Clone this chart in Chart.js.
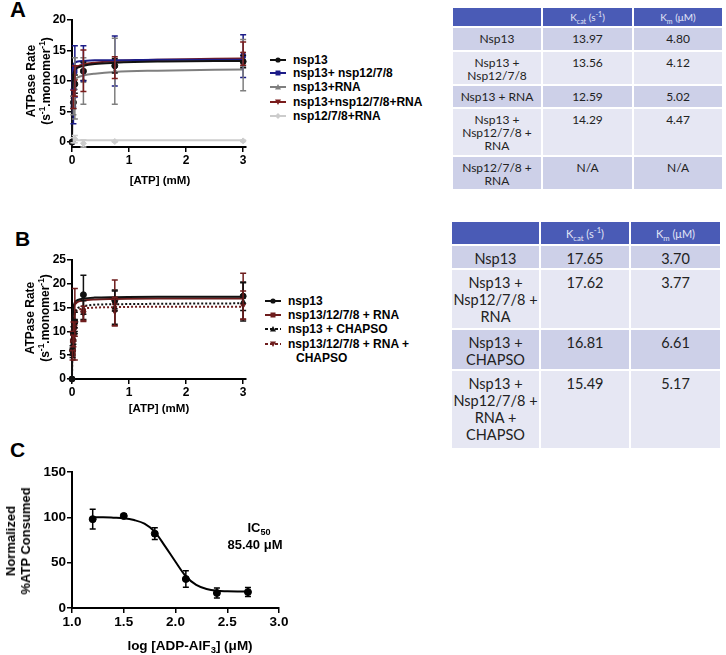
<!DOCTYPE html>
<html>
<head>
<meta charset="utf-8">
<script src="https://cdn.jsdelivr.net/npm/chart.js@4.4.1/dist/chart.umd.min.js"></script>
<style>
  body { margin: 0; background: #fff; width: 726px; height: 655px; position: relative; overflow: hidden;
         font-family: "Liberation Sans", Arial, sans-serif; color: #000; }
  canvas { position: absolute; }
  .panel { position: absolute; font-weight: bold; font-size: 21px; line-height: 24px; }
  .ytitle { position: absolute; transform: translate(-50%, -50%) rotate(-90deg); white-space: nowrap;
            text-align: center; font-weight: bold; }
  .xtitle { position: absolute; transform: translate(-50%, -50%); white-space: nowrap; font-weight: bold; }
  .leg { position: absolute; font-weight: bold; font-size: 12px; white-space: nowrap; line-height: 14px; }
  .leg svg { vertical-align: middle; margin-right: 7px; margin-top: -2px; }
  sup, sub { font-size: 70%; line-height: 0; }
  table { position: absolute; border-collapse: collapse; table-layout: fixed; color: #222;
          font-family: Lato, "Open Sans", sans-serif; }
  td, th { border: 2px solid #fff; text-align: center; vertical-align: top; padding: 4px 0 0 0; font-weight: normal; }
  th { background: #4a5bb6; color: #e2e5f6; vertical-align: middle; padding: 0; }
  tr.dk td { background: #cdd0e8; }
  tr.lt td { background: #e6e7f3; }
  #tabA { font-size: 12px; line-height: 13px; }
  #tabA th { font-size: 10px; }
  #tabB { font-size: 14.5px; line-height: 17px; }
  #tabB th { font-size: 11px; }
</style>
</head>
<body>

<div class="panel" style="left:10px; top:-2px; font-size:22px;">A</div>
<div class="panel" style="left:15px; top:227px;">B</div>
<div class="panel" style="left:10px; top:438px;">C</div>

<canvas id="chartA" width="260" height="190" style="left:0; top:0;"></canvas>
<canvas id="chartB" width="260" height="220" style="left:0; top:200px;"></canvas>
<canvas id="chartC" width="300" height="215" style="left:0; top:440px;"></canvas>

<div class="ytitle" style="left:39px; top:81px; font-size:12px; line-height:15px;">ATPase Rate<br>(s<sup>-1</sup>.monomer<sup>-1</sup>)</div>
<div class="xtitle" style="left:160px; top:180px; font-size:11.5px;">[ATP] (mM)</div>

<div class="ytitle" style="left:38px; top:318px; font-size:12px; line-height:15px;">ATPase Rate<br>(s<sup>-1</sup>.monomer<sup>-1</sup>)</div>
<div class="xtitle" style="left:159px; top:408px; font-size:11.5px;">[ATP] (mM)</div>

<div class="ytitle" style="left:18px; top:541px; font-size:13px; line-height:15px;">Normalized<br>%ATP Consumed</div>
<div class="xtitle" style="left:190px; top:645px; font-size:13.5px;">log [ADP-AlF<sub>3</sub>] (μM)</div>
<div class="xtitle" style="left:259px; top:527px; font-size:13px;">IC<sub>50</sub></div>
<div class="xtitle" style="left:255px; top:544px; font-size:13px;">85.40 μM</div>

<div id="legA"></div>
<div id="legB"></div>

<table id="tabA" style="left:451px; top:6px; width:271px;">
  <colgroup><col style="width:90px"><col style="width:91px"><col style="width:90px"></colgroup>
  <tr style="height:20px"><th></th><th>K<sub>cat</sub> (s<sup>-1</sup>)</th><th>K<sub>m</sub> (μM)</th></tr>
  <tr class="dk" style="height:24px"><td>Nsp13</td><td>13.97</td><td>4.80</td></tr>
  <tr class="lt" style="height:34px"><td>Nsp13 +<br>Nsp12/7/8</td><td>13.56</td><td>4.12</td></tr>
  <tr class="dk" style="height:23px"><td>Nsp13 + RNA</td><td>12.59</td><td>5.02</td></tr>
  <tr class="lt" style="height:48px"><td>Nsp13 +<br>Nsp12/7/8 +<br>RNA</td><td>14.29</td><td>4.47</td></tr>
  <tr class="dk" style="height:34px"><td>Nsp12/7/8 +<br>RNA</td><td>N/A</td><td>N/A</td></tr>
</table>

<table id="tabB" style="left:450px; top:220px; width:270px;">
  <colgroup><col style="width:89px"><col style="width:90px"><col style="width:91px"></colgroup>
  <tr style="height:24px"><th></th><th>K<sub>cat</sub> (s<sup>-1</sup>)</th><th>K<sub>m</sub> (μM)</th></tr>
  <tr class="dk" style="height:24px"><td>Nsp13</td><td>17.65</td><td>3.70</td></tr>
  <tr class="lt" style="height:60px"><td>Nsp13 +<br>Nsp12/7/8 +<br>RNA</td><td>17.62</td><td>3.77</td></tr>
  <tr class="dk" style="height:41px"><td>Nsp13 +<br>CHAPSO</td><td>16.81</td><td>6.61</td></tr>
  <tr class="lt" style="height:79px"><td>Nsp13 +<br>Nsp12/7/8 +<br>RNA +<br>CHAPSO</td><td>15.49</td><td>5.17</td></tr>
</table>

<script>
// ---------- Panel A data ----------
const labelsA = ["nsp13", "nsp13+ nsp12/7/8", "nsp13+RNA", "nsp13+nsp12/7/8+RNA", "nsp12/7/8+RNA"];
const colorsA = ["#111111", "#1c1c88", "#7f7f7f", "#7a1c1c", "#cccccc"];
const shapesA = ["circle", "rect", "triangle", "triangleDown", "rectRot"];

const atpA = [0, 0.025, 0.05, 0.2, 0.75, 3];
const rateA = [
  [0, 6.5, 9.5, 11.6, 12.5, 13.2],
  [0, 5.8, 11.6, 12.9, 13.3, 14.1],
  [0, 6.0, 8.8, 10.0, 11.6, 12.6],
  [0, 7.0, 10.0, 11.7, 12.2, 14.5],
  [0, 0.3, 0.5, -0.2, 0.1, 0.2]
];
const errA = [
  [0, 1.0, 1.5, 1.5, 1.2, 1.0],
  [0, 2.8, 4.2, 2.9, 4.1, 3.5],
  [0, 1.5, 5.0, 3.8, 5.4, 4.2],
  [0, 1.5, 2.5, 3.4, 1.8, 1.9],
  [0, 0.4, 0.6, 0.6, 0.1, 0.1]
];

const fitXA = [0, 0.002, 0.005, 0.01, 0.02, 0.04, 0.07, 0.1, 0.2, 0.4, 0.75, 1.5, 3];
const fitA = [
  [0, 4.0, 7.0, 9.2, 10.9, 11.6, 12.0, 12.2, 12.5, 12.8, 13.0, 13.2, 13.3],
  [0, 5.5, 9.2, 11.3, 12.4, 12.9, 13.1, 13.2, 13.3, 13.4, 13.4, 13.5, 13.5],
  [0, 3.5, 6.2, 8.0, 9.3, 10.0, 10.4, 10.6, 10.9, 11.2, 11.5, 11.7, 11.9],
  [0, 4.5, 7.8, 9.9, 11.2, 11.9, 12.2, 12.4, 12.7, 13.0, 13.3, 13.5, 13.7],
  [0.3, 0.3, 0.3, 0.3, 0.3, 0.3, 0.3, 0.3, 0.3, 0.3, 0.3, 0.3, 0.3]
];
const xTicksA = [0, 1, 2, 3];
const yTicksA = [0, 5, 10, 15, 20];

// ---------- Panel B data ----------
const labelsB = ["nsp13", "nsp13/12/7/8 + RNA", "nsp13 + CHAPSO", "nsp13/12/7/8 + RNA +<br><span style='padding-left:31px'>CHAPSO</span>"];
const colorsB = ["#111111", "#6e1d1d", "#111111", "#6e1d1d"];
const shapesB = ["circle", "rect", "triangle", "triangleDown"];
const dashedB = [false, false, true, true];

const atpB = [0, 0.01, 0.025, 0.05, 0.2, 0.75, 3];
const rateB = [
  [0, 6.0, 9.5, 12.0, 17.7, 16.5, 17.4],
  [0, 8.0, 10.0, 11.5, 14.3, 16.0, 17.4],
  [0, 5.5, 8.5, 11.0, 14.5, 15.0, 16.2],
  [0, 5.0, 8.0, 10.5, 13.8, 14.2, 15.5]
];
const errB = [
  [0, 1.0, 1.5, 2.0, 4.1, 2.2, 3.0],
  [0, 2.0, 2.0, 7.5, 2.2, 4.8, 4.8],
  [0, 1.0, 1.2, 1.5, 2.0, 3.5, 4.0],
  [0, 1.0, 1.2, 1.5, 1.5, 3.0, 3.0]
];
const fitXB = [0, 0.002, 0.005, 0.01, 0.02, 0.04, 0.07, 0.1, 0.2, 0.4, 0.75, 1.5, 3];
const fitB = [
  [0, 6.1, 9.9, 12.6, 14.6, 15.8, 16.4, 16.6, 16.9, 17.1, 17.2, 17.3, 17.3],
  [0, 5.5, 9.5, 12.2, 14.2, 15.4, 15.9, 16.2, 16.5, 16.7, 16.8, 16.9, 16.9],
  [0, 3.5, 6.8, 9.5, 12.0, 13.6, 14.5, 14.9, 15.3, 15.6, 15.7, 15.8, 15.9],
  [0, 4.0, 7.5, 10.0, 12.2, 13.5, 14.2, 14.5, 14.8, 15.0, 15.1, 15.2, 15.2]
];
const xTicksB = [0, 1, 2, 3];
const yTicksB = [0, 5, 10, 15, 20, 25];

// ---------- Panel C data ----------
const doseC = [1.2, 1.5, 1.8, 2.1, 2.4, 2.7];
const atpC = [98, 101.5, 82, 32, 16.5, 17.6];
const errC = [11, 2.2, 6.5, 9, 5.5, 5];
const fitXC = [1.2, 1.3, 1.4, 1.5, 1.6, 1.7, 1.8, 1.9, 2.0, 2.1, 2.2, 2.3, 2.4, 2.5, 2.6, 2.7];
const fitC = [100, 100, 99.6, 99, 97, 93, 84, 68, 51, 35, 25.5, 21, 19, 18.5, 18.2, 18];
const xTicksC = [1.0, 1.5, 2.0, 2.5, 3.0];
const yTicksC = [0, 50, 100, 150];

Chart.defaults.font.family = '"Liberation Sans", Arial, sans-serif';
Chart.defaults.color = '#000';

// draw vertical error bars with caps for datasets carrying an `errors` array
const errorBars = {
  id: 'errorBars',
  afterDatasetsDraw(chart) {
    const { ctx } = chart;
    const xs = chart.scales.x, ys = chart.scales.y;
    chart.data.datasets.forEach((ds) => {
      if (!ds.errors) return;
      ctx.save();
      ctx.strokeStyle = ds.borderColor;
      ctx.lineWidth = 1.5;
      ds.data.forEach((p, j) => {
        const e = ds.errors[j];
        if (!e) return;
        const px = xs.getPixelForValue(p.x);
        const top = ys.getPixelForValue(p.y + e);
        const bot = ys.getPixelForValue(p.y - e);
        ctx.beginPath();
        ctx.moveTo(px, top); ctx.lineTo(px, bot);
        ctx.moveTo(px - 3, top); ctx.lineTo(px + 3, top);
        ctx.moveTo(px - 3, bot); ctx.lineTo(px + 3, bot);
        ctx.stroke();
      });
      ctx.restore();
    });
  }
};

function pts(xs, ys) {
  return xs.map((x, i) => ({ x: x, y: ys[i] }));
}

function fitSet(xs, ys, color, dashed) {
  return {
    data: pts(xs, ys), showLine: true, borderColor: color, borderWidth: 2,
    borderDash: dashed ? [2, 2] : [], pointRadius: 0, cubicInterpolationMode: 'monotone', clip: false
  };
}

function pointSet(xs, ys, errs, color, shape, r) {
  const down = shape === 'triangleDown';
  return {
    data: pts(xs, ys), showLine: false, borderColor: color, backgroundColor: color,
    pointStyle: down ? 'triangle' : shape, rotation: down ? 180 : 0,
    pointRadius: r || 3, borderWidth: 1, errors: errs, clip: false
  };
}

function axisChart(id, area, cfg) {
  const cv = document.getElementById(id);
  const W = cv.width, H = cv.height;
  const tickFont = { size: cfg.fs, weight: 'bold' };
  return new Chart(cv, {
    type: 'scatter',
    data: { datasets: cfg.datasets },
    options: {
      responsive: false,
      animation: false,
      layout: { autoPadding: false, padding: { left: 0, top: area.top, right: W - area.right, bottom: 0 } },
      plugins: { legend: { display: false }, tooltip: { enabled: false } },
      scales: {
        x: {
          type: 'linear', min: cfg.xMin, max: cfg.xMax,
          afterFit: (s) => { s.height = H - area.bottom; },
          afterBuildTicks: (s) => { s.ticks = cfg.xTicks.map((v) => ({ value: v })); },
          ticks: { font: tickFont, padding: 1, maxRotation: 0, autoSkip: false, callback: cfg.xFmt },
          grid: { drawOnChartArea: false, tickLength: 5, color: '#000', lineWidth: 1.5 },
          border: { color: '#000', width: 2 }
        },
        y: {
          type: 'linear', min: cfg.yMin, max: cfg.yMax,
          afterFit: (s) => { s.width = area.left; },
          afterBuildTicks: (s) => { s.ticks = cfg.yTicks.map((v) => ({ value: v })); },
          ticks: { font: tickFont, padding: 1, autoSkip: false },
          grid: { drawOnChartArea: false, tickLength: 5, color: '#000', lineWidth: 1.5 },
          border: { color: '#000', width: 2 }
        }
      }
    },
    plugins: [errorBars]
  });
}

// ---------- Panel A ----------
const dsA = [];
fitA.forEach((f, i) => dsA.push(fitSet(fitXA, f, colorsA[i], false)));
rateA.forEach((r, i) => dsA.push(pointSet(atpA, r, errA[i], colorsA[i], shapesA[i])));
axisChart('chartA', { left: 72, top: 20, right: 246, bottom: 147 }, {
  datasets: dsA, xMin: 0, xMax: 3.05, yMin: -0.8, yMax: 20,
  xTicks: xTicksA, yTicks: yTicksA, fs: 12
});

// ---------- Panel B ----------
const dsB = [];
fitB.forEach((f, i) => dsB.push(fitSet(fitXB, f, colorsB[i], dashedB[i])));
rateB.forEach((r, i) => dsB.push(pointSet(atpB, r, errB[i], colorsB[i], shapesB[i])));
axisChart('chartB', { left: 72, top: 60, right: 246, bottom: 179 }, {
  datasets: dsB, xMin: 0, xMax: 3.05, yMin: 0, yMax: 25,
  xTicks: xTicksB, yTicks: yTicksB, fs: 12
});

// ---------- Panel C ----------
axisChart('chartC', { left: 72, top: 32, right: 279, bottom: 168 }, {
  datasets: [fitSet(fitXC, fitC, '#000', false), pointSet(doseC, atpC, errC, '#000', 'circle', 3.5)],
  xMin: 1, xMax: 3, yMin: 0, yMax: 150,
  xTicks: xTicksC, yTicks: yTicksC, fs: 13.5, xFmt: (v) => Number(v).toFixed(1)
});

// ---------- Legends ----------
function symbol(color, shape, dashed) {
  let m = '';
  if (shape === 'circle') m = `<circle cx="8" cy="5" r="2.6" fill="${color}"/>`;
  else if (shape === 'rect') m = `<rect x="5.5" y="2.5" width="5" height="5" fill="${color}"/>`;
  else if (shape === 'triangle') m = `<polygon points="8,2 11,7.5 5,7.5" fill="${color}"/>`;
  else if (shape === 'triangleDown') m = `<polygon points="5,2.5 11,2.5 8,8" fill="${color}"/>`;
  else m = `<polygon points="8,2 11,5 8,8 5,5" fill="${color}"/>`;
  const dash = dashed ? 'stroke-dasharray="3,2"' : '';
  return `<svg width="16" height="10"><line x1="0" y1="5" x2="16" y2="5" stroke="${color}" stroke-width="2" ${dash}/>${m}</svg>`;
}

const legAY = [60, 73, 87, 102, 116];
labelsA.forEach((t, i) => {
  const d = document.createElement('div');
  d.className = 'leg';
  d.style.left = '270px';
  d.style.top = (legAY[i] - 7) + 'px';
  d.innerHTML = symbol(colorsA[i], shapesA[i], false) + t;
  document.getElementById('legA').appendChild(d);
});

const legBY = [301, 315, 329, 344];
labelsB.forEach((t, i) => {
  const d = document.createElement('div');
  d.className = 'leg';
  d.style.left = '265px';
  d.style.top = (legBY[i] - 7) + 'px';
  d.innerHTML = symbol(colorsB[i], shapesB[i], dashedB[i]) + t;
  document.getElementById('legB').appendChild(d);
});
</script>
</body>
</html>
